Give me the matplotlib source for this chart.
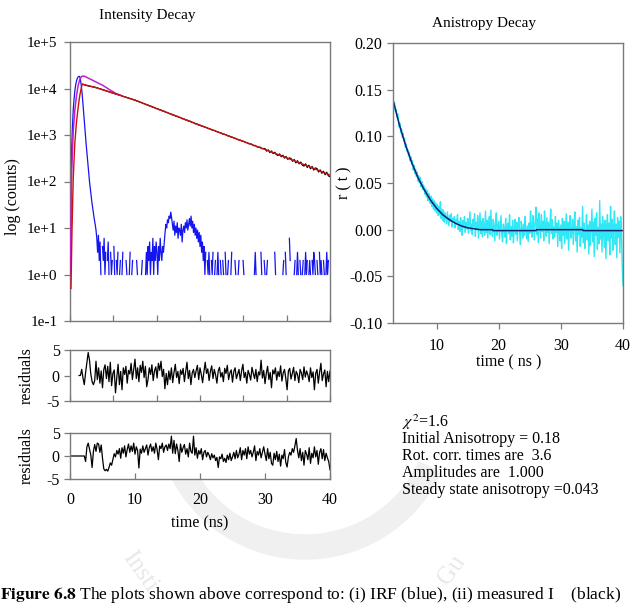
import numpy as np
import matplotlib

matplotlib.use("Agg")
import matplotlib.pyplot as plt
from matplotlib.patches import Wedge
from matplotlib.ticker import FixedLocator, FixedFormatter, MultipleLocator

plt.rcParams["font.family"] = ["Liberation Serif", "DejaVu Serif"]
plt.rcParams["mathtext.fontset"] = "stix"

# ---------------------------------------------------------------- data
# IRF counts (blue), one value every 0.125 ns from t = 0
IRF_DT = 0.125
irf_counts = (
    [1, 8, 500, 1500, 3500, 6000, 9000, 12000, 14500, 16500, 17800, 18300,
     18000, 15000, 11000, 7500, 4500, 2800, 1700, 1000, 600, 380, 230, 150,
     100, 70, 50, 35, 26, 20, 15, 12, 9]
    + [6, 3, 7, 2, 5, 1, 0, 4, 2, 6, 1, 3, 0, 2, 5, 1, 0, 3, 1, 2, 0, 4, 1,
       0, 2, 1, 3, 0, 1, 2, 0]
    + [1, 3, 0, 1, 0, 2, 1, 0, 0, 1, 3, 0, 1, 2, 0, 0, 1, 0, 2, 1, 0, 1, 0,
       0, 1, 2, 0, 1, 0, 1, 3]
    + [1, 4, 2, 5, 1, 3, 2, 6, 1, 4, 2, 5, 3, 1, 4, 2, 6, 3, 2, 4, 3,
       5, 8, 12, 10, 15, 13, 18, 16, 22, 17]
    + [12, 9, 14, 7, 11, 8, 13, 6, 10, 9, 7, 12, 5, 9, 11, 8, 13, 10, 15, 9,
       12, 16, 11, 18, 10, 14, 8, 12, 7, 10, 6]
    + [9, 5, 8, 4, 7, 3, 5, 2, 4, 1, 3, 0, 2, 1, 3, 1, 0, 2, 1, 3, 0, 1, 2,
       0, 1, 3, 1, 0, 2, 1, 0]
    + [2, 1, 0, 3, 1, 0, 1, 2, 0, 0, 1, 3, 0, 1, 0, 2, 1, 0, 0, 1, 2, 0, 1,
       0, 0, 2, 1, 0, 1, 0, 0]
    + [1, 0, 0, 2, 0, 1, 0, 0, 1, 3, 1, 0, 2, 0, 1, 0, 3, 1, 0, 0, 2, 1, 0,
       1, 2, 0, 0, 1, 0, 2, 0]
    + [1, 0, 3, 1, 0, 0, 2, 0, 1, 0, 0, 0, 1, 2, 0, 3, 1, 0, 1, 0, 6, 2, 0,
       1, 0, 0, 1, 2, 0, 1, 3]
    + [1, 0, 2, 1, 0, 1, 2, 0, 1, 3, 1, 2, 0, 1, 2, 1, 0, 2, 1, 3, 2, 1, 0,
       2, 1, 0, 3, 1, 2, 1, 0]
    + [2, 1, 0, 1, 3, 1, 2, 0, 2]
)

# measured decay (black), every 0.25 ns from t = 2
DECAY_T0, DECAY_DT = 2.0, 0.25
decay_counts = [
    12300, 11950, 11600, 11480, 11150, 11050, 10800, 10700,
    10420, 10260, 9890, 9750, 9400, 9260, 8920, 8790,
    8470, 8350, 8020, 7930, 7620, 7530, 7230, 7140,
    6950, 6690, 6600, 6350, 6280, 6030, 5960, 5720,
    5650, 5400, 5310, 5080, 4990, 4770, 4700, 4480,
    4420, 4200, 4150, 3950, 3900, 3700, 3670, 3480,
    3450, 3270, 3240, 3080, 3040, 2890, 2860, 2710,
    2690, 2550, 2530, 2390, 2380, 2240, 2240, 2110,
    2100, 1980, 1980, 1860, 1860, 1740, 1750, 1640,
    1630, 1555, 1535, 1470, 1450, 1380, 1362, 1300,
    1262, 1250, 1188, 1170, 1122, 1108, 1050, 1040,
    1010, 962, 950, 905, 895, 855, 842, 805,
    780, 772, 735, 728, 690, 685, 650, 645,
    628, 590, 596, 560, 541, 549, 510, 512,
    510, 450, 478, 420, 452, 398, 425, 380,
    362, 392, 340, 368, 318, 344, 300, 322,
    312, 272, 296, 252, 280, 240, 262, 224,
    215, 240, 200, 224, 188, 210, 176, 196,
    190, 160, 178, 150, 166, 140, 158, 132,
    128,
]

# fitted decay (red)
fit_t = [0.15, 0.3, 0.5, 0.75, 1.0, 1.25, 1.5, 1.75, 1.9, 2.0, 4, 6, 8, 10,
         15, 20, 25, 30, 35, 40]
fit_counts = [0.5, 8, 120, 700, 1900, 3900, 7000, 10500, 12600, 12300,
              10470, 8510, 6910, 5610, 3010, 1620, 888, 488, 262, 138]

# second curve (magenta)
mag_t = [0, 0.125, 0.25, 0.5, 0.75, 1.0, 1.25, 1.5, 1.75, 2.0, 2.25, 2.5,
         3.0, 3.5, 4.0, 5.0, 6.0, 7.0, 8.0]
mag_counts = [1, 5, 150, 1200, 3500, 7000, 11500, 15500, 18000, 18600,
              18300, 17600, 16200, 15000, 13800, 11800, 9600, 7900, 6950]

# residuals, every 0.2 ns
RES_DT = 0.2
RES1_T0 = 1.4
residuals_1 = [
    0, 0, 1.2, -0.5, -1.8, 0.6, 2.6, 4.5, 3.0, 0.3,
    -1.2, -1.8, -1.0, 2.8, -0.8, 1.5, -1.5, 0.9, -2.4, 1.2,
    2.1, -0.6, 1.8, -1.2, 2.6, -2.0, 0.4, 1.1, -3.4, -0.4,
    2.2, -1.8, 0.8, -2.8, 1.5, 0.2, 1.8, -1.5, 1.0, 0.3,
    2.4, -0.8, 1.2, 3.2, -0.6, 1.5, -1.2, 2.0, 0.6, 2.8,
    -0.4, 1.8, -2.2, -0.8, 1.5, 0.2, 2.1, -1.0, 0.9, 1.7,
    -0.5, 2.4, 1.0, 2.8, -0.2, 1.2, -2.6, 0.4, -1.8, 0.9,
    -0.8, 1.5, -1.4, 0.6, 2.2, -0.4, 0.8, -1.6, 1.1, 0.2,
    1.4, -1.2, 0.8, 2.6, -0.6, 1.0, -1.8, 0.5, 1.2, -0.4,
    0.9, 2.0, -0.8, 1.5, 0.2, -1.4, 0.7, 2.6, 0.4, 1.3,
    -1.0, 0.8, 1.9, -0.6, 1.2, 0.1, -1.5, 0.9, 1.6, -0.3,
    0.6, -1.2, 1.4, 0.4, 2.0, -0.8, 0.5, 1.1, -1.3, 0.8,
    1.5, -0.6, 0.3, 1.2, -1.0, 0.9, 2.2, -0.4, 0.6, -1.5,
    1.0, 0.2, -0.9, 1.6, 0.4, -0.6, 1.2, -1.2, 0.7, 0.1,
    3.0, -0.5, 1.0, -1.6, 0.4, 1.8, -0.8, 0.6, -2.4, 1.1,
    0.3, 1.5, -0.9, 0.8, -0.2, 1.9, -1.1, 0.5, 1.2, -0.6,
    -2.8, 0.9, 1.4, -0.7, 0.4, 1.6, -1.0, 0.8, 0.2, -1.4,
    1.2, 0.5, -0.8, 1.7, -0.3, 0.9, 0.1, -1.2, 1.5, -0.4,
    0.7, -2.8, 0.4, 1.2, -1.5, 0.6, 2.4, -1.0, 0.3, 1.1,
    -2.2, 0.8, -1.2, 0.9,
]
RES2_T0 = 0.0
residuals_2 = [
    0, 0, 0, 0, 0, 0, 0, 0, 0, 0,
    0, 0, -1.2, 2.0, 2.8, 1.5, 0.2, -2.5, 1.0, 2.5,
    1.0, 2.8, 2.6, 0.8, 2.4, -0.5, -2.8, -3.2, -2.9, -3.3,
    -2.5, -1.5, -2.0, -0.8, 0.5, -0.2, 1.2, 0.4, 1.6, -0.5,
    1.8, 0.6, 2.2, -0.2, 1.4, 2.6, 0.8, 2.2, 1.0, 2.8,
    0.4, 2.0, 1.2, -2.6, 1.5, 0.6, 2.2, 0.8, 1.6, 2.4,
    0.2, 1.8, 2.6, 1.0, 2.0, 0.6, 2.8, 1.4, -0.8, 2.2,
    1.6, 2.8, 0.8, 2.0, 2.4, 1.2, 2.6, 1.6, 4.3, 0.6,
    3.4, 0.5, 2.6, 1.2, -1.2, 2.6, 0.8, 1.8, 2.5, 0.4,
    1.6, -0.2, 2.8, 1.0, 0.6, 4.3, 0.2, 1.8, -0.5, 1.2,
    0.4, 1.6, -0.8, 0.8, 1.2, -0.2, 0.8, 0.2, -0.8, 0.5,
    -0.4, 0.2, -1.0, -0.3, -2.5, -0.2, -0.6, 0.4, -1.2, -0.5,
    -1.4, 0.2, -0.8, 0.6, -1.0, -0.2, 0.8, -0.6, 1.2, -0.4,
    0.4, 1.8, -0.8, 1.2, 0.2, 1.6, -0.6, 2.0, 0.4, 1.2,
    -0.2, 0.8, 2.2, -1.0, 1.0, 0.2, 1.6, -0.4, 0.8, 2.0,
    0.4, -1.0, 1.6, -0.6, 0.8, -1.6, -2.0, 0.6, -0.8, 1.0,
    -1.2, 0.4, -2.2, 0.2, -0.6, 1.4, -1.4, -2.4, -0.2, 0.8,
    0.2, 1.6, 0.8, 2.2, 3.8, 1.2, -0.4, 1.6, -1.0, 0.8,
    -2.0, 1.2, 0.4, -0.8, 1.8, -1.6, 0.6, -0.4, 2.0, -0.2,
    1.2, -1.8, 0.8, 1.6, -0.6, 1.4, -1.0, 0.6, -0.4, -1.2,
    -3.0,
]

# anisotropy r(t), in thousandths, every 0.125 ns from t = 3
ANI_T0, ANI_DT = 3.0, 0.125
anisotropy_milli = [
    141, 134, 136, 127, 129, 121, 124, 118,
    110, 114, 104, 108, 99, 103, 95, 98,
    88, 92, 84, 86, 79, 83, 74, 78,
    70, 74, 64, 69, 60, 65, 57, 62,
    52, 58, 50, 56, 46, 52, 43, 48,
    46, 38, 44, 35, 42, 31, 39, 34,
    28, 36, 25, 33, 22, 31, 20, 29,
    18, 27, 15, 25, 16, 30, 12, 22,
    10, 21, 8, 18, 14, 6, 19, 11,
    4, 15, 9, 17, 3, 12, 8, 14,
    2, 11, 6, 16, 0, 9, -2, 13,
    5, -6, 10, 2, 14, -3, 8, 1,
    12, -4, 7, 19, -1, 6, -5, 11,
    3, 17, -7, 8, 0, 15, -9, 5,
    18, -4, 9, -8, 12, 2, -6, 20,
    -3, 10, -9, 6, 14, -5, 21, 0,
    -7, 11, 4, -12, 8, 18, -6, 3,
    9, -10, 2, 15, -5, -13, 6, 1,
    -8, 12, -15, 4, 7, -4, 16, -11,
    3, -7, 10, -14, 0, 11, -5, 8,
    -12, 5, 13, -3, -16, 9, 2, -9,
    6, -6, 14, -1, -10, 4, -13, 7,
    -4, 20, 2, -8, 15, 5, -11, 10,
    24, -5, 12, -14, 18, 3, -9, 16,
    -2, 9, -12, 20, 4, -7, 13, -3,
    8, -15, 6, 22, -4, 11, -10, 3,
    -8, 14, -3, 7, -18, 10, 1, -12,
    5, -20, 12, -6, 9, -15, 2, 17,
    -10, 8, -22, 4, 15, -9, -3, 11,
    -16, 6, 19, -12, 3, -24, 10, -5,
    13, -18, 2, -8, 25, -14, 7, -20,
    -4, 16, -11, 5, -26, 9, -17, 3,
    22, -13, 8, -29, 12, -6, 18, -21,
    2, -15, 31, -10, 6, -24, 14, -3,
    -19, 10, -31, 4, 16, -12, 7, -27,
    25, -9, 11, -22, 3, 20, -16, 6,
    -30, 13, -8, 9, -25, 14, -3, -38,
    -60,
]
ani_fit_t = [3, 4, 5, 6, 7, 8, 9, 10, 11, 12, 13, 14, 15, 16, 17, 19, 19.1,
             26, 26.1, 33.5, 33.6, 40]
ani_fit_milli = [139, 113, 91, 72, 56, 43, 32, 23, 16, 11, 7, 4, 2, 1, 0, 0,
                 -1, -1, 0, 0, -1, -1]

log_ticks = [1e-1, 1e0, 1e1, 1e2, 1e3, 1e4, 1e5]
log_labels = ["1e-1", "1e+0", "1e+1", "1e+2", "1e+3", "1e+4", "1e+5"]

info_lines = [r"$\chi^2$=1.6", "Initial Anisotropy = 0.18",
              "Rot. corr. times are  3.6", "Amplitudes are  1.000",
              "Steady state anisotropy =0.043"]

# ---------------------------------------------------------------- figure
W, H = 637, 604
fig = plt.figure(figsize=(W / 100, H / 100), dpi=100)
SPINE = "#7a7a7a"


def px_axes(x0, y0, x1, y1):
    return fig.add_axes([x0 / W, 1 - y1 / H, (x1 - x0) / W, (y1 - y0) / H])


def style(ax):
    for s in ax.spines.values():
        s.set_color(SPINE)
        s.set_linewidth(1.0)
    ax.tick_params(colors=SPINE, labelcolor="black", labelsize=11,
                   length=4, width=0.9)


# faint watermark behind everything
fig.add_artist(Wedge((3.05, 1.95), 1.5, 200, 335, width=0.24,
                     transform=fig.dpi_scale_trans, color="#f0f0f0",
                     zorder=-5))
fig.text(140 / W, 1 - 572 / H, "Insti", rotation=-55, fontsize=18,
         color="#e8e8e8", ha="center", va="center", zorder=-5)
fig.text(452 / W, 1 - 570 / H, "Gu", rotation=55, fontsize=18,
         color="#e8e8e8", ha="center", va="center", zorder=-5)

# --- intensity decay
ax = px_axes(70, 42, 330, 321)
style(ax)
t_irf = np.arange(len(irf_counts)) * IRF_DT
t_dec = DECAY_T0 + np.arange(len(decay_counts)) * DECAY_DT
ax.plot(t_irf, irf_counts, color="#1515f0", lw=0.9, zorder=2)
ax.plot(t_dec, decay_counts, color="black", lw=0.9, zorder=3)
ax.plot(mag_t, mag_counts, color="#c020c8", lw=1.1, zorder=3)
ax.plot(fit_t, fit_counts, color="#cc1010", lw=1.0, zorder=4)
ax.set_yscale("log", nonpositive="mask")
ax.set_xlim(0, 40)
ax.set_ylim(1e-1, 1e5)
ax.yaxis.set_major_locator(FixedLocator(log_ticks))
ax.yaxis.set_major_formatter(FixedFormatter(log_labels))
ax.yaxis.set_minor_locator(FixedLocator([]))
ax.xaxis.set_major_locator(MultipleLocator(40 / 6))
ax.tick_params(axis="x", direction="in", labelbottom=False)
ax.tick_params(axis="y", direction="out", pad=5)

# --- residual panels
for (y0, y1, t0, vals, last) in [(350, 401, RES1_T0, residuals_1, False),
                                  (433, 479, RES2_T0, residuals_2, True)]:
    r = px_axes(70, y0, 330, y1)
    style(r)
    r.plot(t0 + np.arange(len(vals)) * RES_DT, vals, color="black", lw=0.9)
    r.set_xlim(0, 40)
    r.set_ylim(-5, 5)
    r.set_yticks([-5, 0, 5])
    r.set_yticklabels(["-5", "0", "5"])
    r.tick_params(axis="y", direction="out", labelsize=11.5)
    if last:
        r.set_xticks([0, 10, 20, 30, 40])
        r.tick_params(axis="x", direction="in", labelsize=11.5, pad=9)
    else:
        r.xaxis.set_major_locator(MultipleLocator(40 / 6))
        r.tick_params(axis="x", direction="in", labelbottom=False)
    fig.text(27 / W, 1 - (y0 + y1) / 2 / H, "residuals", rotation=90,
             fontsize=11.5, ha="center", va="center")

# --- anisotropy decay
ax2 = px_axes(393, 43, 623, 323)
style(ax2)
t_ani = ANI_T0 + np.arange(len(anisotropy_milli)) * ANI_DT
ax2.plot(t_ani, np.array(anisotropy_milli) / 1000.0, color="#30e8f5", lw=1.0)
ax2.plot(ani_fit_t, np.array(ani_fit_milli) / 1000.0, color="#102070",
         lw=1.1)
ax2.set_xlim(3, 40)
ax2.set_ylim(-0.10, 0.20)
ax2.set_xticks([10, 20, 30, 40])
ax2.set_yticks([-0.10, -0.05, 0.0, 0.05, 0.10, 0.15, 0.20])
ax2.set_yticklabels(["-0.10", "-0.05", "0.00", "0.05", "0.10", "0.15", "0.20"])
ax2.tick_params(direction="out", labelsize=11.5)
ax2.tick_params(axis="x", pad=7)

# --- text
fig.text(147 / W, 1 - 15 / H, "Intensity Decay", fontsize=11,
         ha="center", va="center")
fig.text(484 / W, 1 - 23 / H, "Anistropy Decay", fontsize=11,
         ha="center", va="center")
fig.text(13 / W, 1 - 197 / H, "log (counts)", rotation=90, fontsize=11.5,
         ha="center", va="center")
fig.text(344 / W, 1 - 183 / H, "r ( t )", rotation=90, fontsize=11.5,
         ha="center", va="center")
fig.text(509 / W, 1 - 362 / H, "time ( ns )", fontsize=11.5,
         ha="center", va="center")
fig.text(200 / W, 1 - 523 / H, "time (ns)", fontsize=11.5,
         ha="center", va="center")
for i, line in enumerate(info_lines):
    fig.text(402 / W, 1 - (422 + i * 17) / H, line, fontsize=11.5,
             ha="left", va="center")

fig.text(0.0, 1 - 595 / H, r"$\mathbf{Figure\ 6.8}$" +
         " The plots shown above correspond to: (i) IRF (blue), (ii) measured I    (black)",
         fontsize=12.5, ha="left", va="center")

fig.savefig("out.png", dpi=100, facecolor="white")
